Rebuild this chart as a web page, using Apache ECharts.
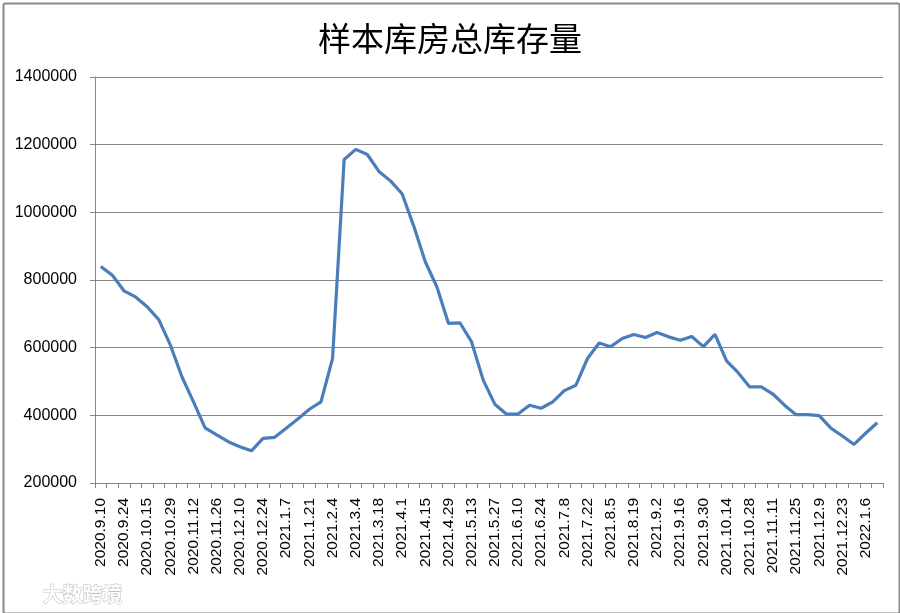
<!DOCTYPE html>
<html><head><meta charset="utf-8">
<script src="https://cdn.jsdelivr.net/npm/echarts@6/dist/echarts.min.js"></script>
<style>html,body{margin:0;padding:0;background:#fff}#c{width:900px;height:613px}</style>
</head><body><div id="c"></div>
<script>
const titleText = '样本库房总库存量';
const categories = ['2020.9.10','2020.9.17','2020.9.24','2020.10.8','2020.10.15','2020.10.22','2020.10.29','2020.11.5','2020.11.12','2020.11.19','2020.11.26','2020.12.3','2020.12.10','2020.12.17','2020.12.24','2020.12.31','2021.1.7','2021.1.14','2021.1.21','2021.1.28','2021.2.4','2021.2.25','2021.3.4','2021.3.11','2021.3.18','2021.3.25','2021.4.1','2021.4.8','2021.4.15','2021.4.22','2021.4.29','2021.5.6','2021.5.13','2021.5.20','2021.5.27','2021.6.3','2021.6.10','2021.6.17','2021.6.24','2021.7.1','2021.7.8','2021.7.15','2021.7.22','2021.7.29','2021.8.5','2021.8.12','2021.8.19','2021.8.26','2021.9.2','2021.9.9','2021.9.16','2021.9.23','2021.9.30','2021.10.7','2021.10.14','2021.10.21','2021.10.28','2021.11.4','2021.11.11','2021.11.18','2021.11.25','2021.12.2','2021.12.9','2021.12.16','2021.12.23','2021.12.30','2022.1.6','2022.1.13'];
const inventory = [840000,814000,768000,750000,721000,683000,608000,514000,440000,363000,342000,322000,307000,295000,332000,335000,362000,389000,418000,440000,568000,1156000,1186000,1171000,1121000,1093000,1055000,960000,854000,780000,672000,673000,617000,504000,433000,404000,404000,430000,421000,440000,473000,489000,568000,614000,603000,627000,639000,630000,645000,632000,622000,633000,603000,639000,561000,526000,484000,484000,463000,430000,402000,402000,399000,362000,339000,314000,347000,378000];
const yMin = 200000, yMax = 1400000, yStep = 200000;

const chart = echarts.init(document.getElementById('c'), null, {renderer:'canvas'});
chart.setOption({
  animation:false,
  backgroundColor:'#fff',
  title:{text:titleText,left:'center',top:17,textStyle:{fontFamily:'Noto Sans CJK SC',fontSize:33,fontWeight:'normal',color:'#000'}},
  grid:{left:95,right:17,top:77,bottom:130,containLabel:false},
  xAxis:{type:'category',data:categories,boundaryGap:true,
    axisLine:{show:true,lineStyle:{color:'#868686',width:1}},
    axisTick:{show:true,interval:0,length:5,lineStyle:{color:'#868686'}},
    axisLabel:{interval:1,rotate:90,margin:15,color:'#000',fontFamily:'Liberation Sans',fontSize:15.5},
    splitLine:{show:false}},
  yAxis:{type:'value',min:yMin,max:yMax,interval:yStep,
    axisLine:{show:true,lineStyle:{color:'#868686',width:1}},
    axisTick:{show:true,length:5,lineStyle:{color:'#868686'}},
    axisLabel:{margin:18,color:'#000',fontFamily:'Liberation Sans',fontSize:16,formatter:function(v){return String(v);}},
    splitLine:{show:true,lineStyle:{color:'#868686',width:1}}},
  series:[{type:'line',data:inventory,symbol:'none',smooth:false,
    lineStyle:{color:'#4a7ebb',width:3.2},itemStyle:{color:'#4a7ebb'}}],
  graphic:[
    {type:'rect',left:1,top:1,shape:{width:896,height:610,r:2},style:{fill:'none',stroke:'#8a8a8a',lineWidth:2},silent:true},
    {type:'text',left:42,top:584,style:{text:'大数跨境',fill:'rgba(255,255,255,0.9)',stroke:'rgba(150,150,150,0.6)',lineWidth:1,font:'bold 20px "Noto Sans CJK SC"'},silent:true}
  ]
});
</script></body></html>
